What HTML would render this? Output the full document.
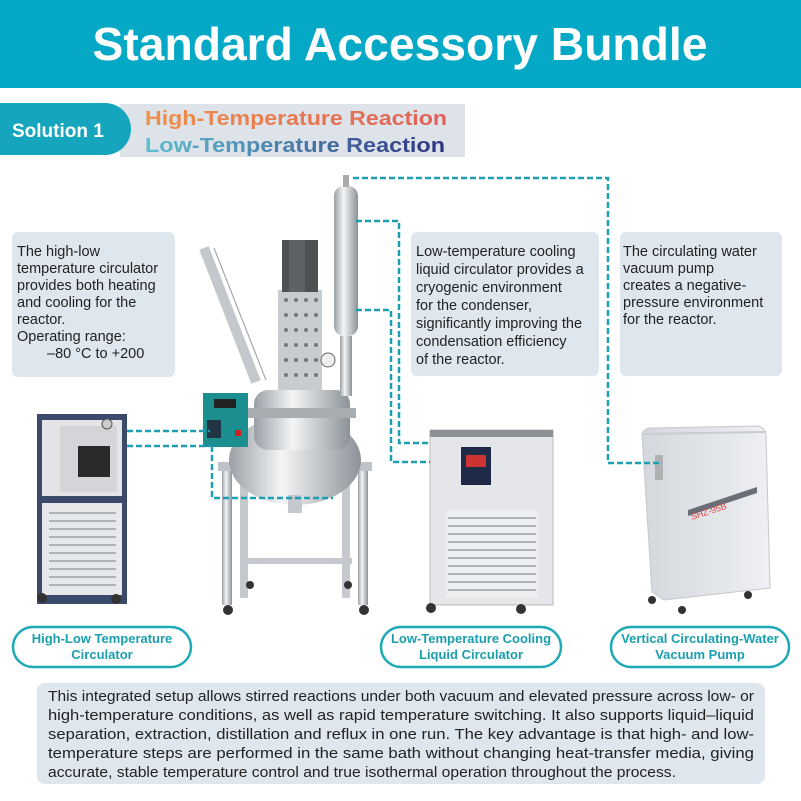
<!DOCTYPE html>
<html><head><meta charset="utf-8"><style>
html,body{margin:0;padding:0;background:#fff}
svg{display:block}
text{font-family:"Liberation Sans",sans-serif}
</style></head><body>
<svg width="801" height="801" viewBox="0 0 801 801" xmlns="http://www.w3.org/2000/svg">
<defs>
<linearGradient id="hi" x1="0" x2="1"><stop offset="0" stop-color="#f0914a"/><stop offset="1" stop-color="#e0605a"/></linearGradient>
<linearGradient id="lo" x1="0" x2="1"><stop offset="0" stop-color="#5cc0d0"/><stop offset="0.5" stop-color="#4a7aa8"/><stop offset="1" stop-color="#2e3480"/></linearGradient>
<linearGradient id="steel" x1="0" x2="1"><stop offset="0" stop-color="#9aa0a6"/><stop offset="0.4" stop-color="#f4f5f6"/><stop offset="1" stop-color="#8c9298"/></linearGradient>
<linearGradient id="pump" x1="0" x2="1"><stop offset="0" stop-color="#d4d7dc"/><stop offset="1" stop-color="#eef0f3"/></linearGradient>
</defs>
<rect x="0" y="0" width="801" height="88" fill="#05a9c5"/>
<text x="400" y="60" text-anchor="middle" font-size="46" font-weight="bold" fill="#fff" textLength="615" lengthAdjust="spacingAndGlyphs">Standard Accessory Bundle</text>

<rect x="120" y="104" width="345" height="53" fill="#dde3e9"/>
<path d="M0 103 H105 A26 26 0 0 1 105 155 H0 Z" fill="#15a6bd"/>
<text x="12" y="137" font-size="19" font-weight="bold" fill="#fff">Solution 1</text>
<text x="145" y="125" font-size="20" font-weight="bold" fill="url(#hi)" textLength="302" lengthAdjust="spacingAndGlyphs">High-Temperature Reaction</text>
<text x="145" y="152" font-size="20" font-weight="bold" fill="url(#lo)" textLength="300" lengthAdjust="spacingAndGlyphs">Low-Temperature Reaction</text>

<rect x="12" y="232" width="163" height="145" rx="6" fill="#dfe7ee"/>
<g font-size="14.5" fill="#222">
<text x="17" y="256">The high-low</text>
<text x="17" y="273">temperature circulator</text>
<text x="17" y="290">provides both heating</text>
<text x="17" y="307">and cooling for the</text>
<text x="17" y="324">reactor.</text>
<text x="17" y="341">Operating range:</text>
<text x="47" y="358">–80 °C to +200</text>
</g>
<rect x="411" y="232" width="188" height="144" rx="6" fill="#dfe7ee"/>
<g font-size="14.5" fill="#222">
<text x="416" y="256">Low-temperature cooling</text>
<text x="416" y="274">liquid circulator provides a</text>
<text x="416" y="292">cryogenic environment</text>
<text x="416" y="310">for the condenser,</text>
<text x="416" y="328">significantly improving the</text>
<text x="416" y="346">condensation efficiency</text>
<text x="416" y="364">of the reactor.</text>
</g>
<rect x="620" y="232" width="162" height="144" rx="6" fill="#dfe7ee"/>
<g font-size="14.5" fill="#222">
<text x="623" y="256">The circulating water</text>
<text x="623" y="273">vacuum pump</text>
<text x="623" y="290">creates a negative-</text>
<text x="623" y="307">pressure environment</text>
<text x="623" y="324">for the reactor.</text>
</g>

<rect x="37" y="414" width="90" height="190" fill="#3b4a6a"/>
<rect x="42" y="420" width="80" height="76" fill="#e2e4e6"/>
<rect x="60" y="426" width="57" height="66" fill="#d3d5d8"/>
<rect x="78" y="446" width="32" height="31" fill="#2a2a2a"/>
<circle cx="107" cy="424" r="5" fill="#ccc" stroke="#555"/>
<rect x="42" y="503" width="80" height="92" fill="#e6e8ea"/>
<g stroke="#9aa0a6" stroke-width="1.5">
<line x1="49" y1="513" x2="116" y2="513"/><line x1="49" y1="521" x2="116" y2="521"/><line x1="49" y1="529" x2="116" y2="529"/><line x1="49" y1="537" x2="116" y2="537"/><line x1="49" y1="545" x2="116" y2="545"/><line x1="49" y1="553" x2="116" y2="553"/><line x1="49" y1="561" x2="116" y2="561"/><line x1="49" y1="569" x2="116" y2="569"/><line x1="49" y1="577" x2="116" y2="577"/><line x1="49" y1="585" x2="116" y2="585"/>
</g>
<circle cx="42" cy="598" r="5" fill="#333"/><circle cx="116" cy="599" r="5" fill="#333"/>

<g>
<rect x="222" y="465" width="10" height="140" fill="url(#steel)"/>
<rect x="358" y="465" width="10" height="140" fill="url(#steel)"/>
<rect x="240" y="478" width="8" height="120" fill="#c5c9cd"/>
<rect x="342" y="478" width="8" height="120" fill="#c5c9cd"/>
<rect x="218" y="462" width="154" height="9" fill="#bfc3c8"/>
<rect x="240" y="558" width="112" height="6" fill="#c5c9cd"/>
<circle cx="228" cy="610" r="5" fill="#333"/><circle cx="364" cy="610" r="5" fill="#333"/>
<circle cx="250" cy="585" r="4" fill="#333"/><circle cx="348" cy="585" r="4" fill="#333"/>
<ellipse cx="295" cy="460" rx="66" ry="45" fill="url(#steel)"/>
<rect x="254" y="390" width="96" height="60" rx="14" fill="url(#steel)"/>
<rect x="248" y="408" width="108" height="10" fill="#a8adb2"/>
<rect x="288" y="495" width="14" height="18" fill="#c5c9cd"/>
<rect x="278" y="290" width="44" height="100" fill="#c8ccd0"/>
<g fill="#777">
<circle cx="286" cy="300" r="2"/><circle cx="296" cy="300" r="2"/><circle cx="306" cy="300" r="2"/><circle cx="316" cy="300" r="2"/>
<circle cx="286" cy="315" r="2"/><circle cx="296" cy="315" r="2"/><circle cx="306" cy="315" r="2"/><circle cx="316" cy="315" r="2"/>
<circle cx="286" cy="330" r="2"/><circle cx="296" cy="330" r="2"/><circle cx="306" cy="330" r="2"/><circle cx="316" cy="330" r="2"/>
<circle cx="286" cy="345" r="2"/><circle cx="296" cy="345" r="2"/><circle cx="306" cy="345" r="2"/><circle cx="316" cy="345" r="2"/>
<circle cx="286" cy="360" r="2"/><circle cx="296" cy="360" r="2"/><circle cx="306" cy="360" r="2"/><circle cx="316" cy="360" r="2"/>
<circle cx="286" cy="375" r="2"/><circle cx="296" cy="375" r="2"/><circle cx="306" cy="375" r="2"/><circle cx="316" cy="375" r="2"/>
</g>
<rect x="282" y="240" width="36" height="52" fill="#4d5154"/>
<rect x="289" y="240" width="16" height="52" fill="#5e6266"/>
<rect x="334" y="186" width="24" height="150" rx="10" fill="url(#steel)"/>
<rect x="343" y="175" width="6" height="12" fill="#aaa"/>
<rect x="340" y="336" width="12" height="60" fill="url(#steel)"/>
<circle cx="328" cy="360" r="7" fill="#eee" stroke="#666"/>
<line x1="204" y1="248" x2="256" y2="382" stroke="#c4c8cc" stroke-width="10"/>
<line x1="214" y1="248" x2="266" y2="380" stroke="#999" stroke-width="1"/>
<rect x="203" y="393" width="45" height="54" fill="#1b8f8f"/>
<rect x="214" y="399" width="22" height="9" fill="#222"/>
<rect x="207" y="420" width="14" height="18" fill="#234"/>
<rect x="235" y="430" width="6" height="6" fill="#c22"/>
</g>

<rect x="430" y="430" width="123" height="175" fill="#e4e6e9" stroke="#bbb"/>
<rect x="430" y="430" width="123" height="7" fill="#8d9196"/>
<rect x="461" y="447" width="30" height="38" fill="#1e2a48"/>
<rect x="466" y="455" width="20" height="12" fill="#c33"/>
<rect x="446" y="510" width="92" height="88" fill="#eceef0"/>
<g stroke="#9aa0a6" stroke-width="1.5">
<line x1="448" y1="518" x2="536" y2="518"/><line x1="448" y1="526" x2="536" y2="526"/><line x1="448" y1="534" x2="536" y2="534"/><line x1="448" y1="542" x2="536" y2="542"/><line x1="448" y1="550" x2="536" y2="550"/><line x1="448" y1="558" x2="536" y2="558"/><line x1="448" y1="566" x2="536" y2="566"/><line x1="448" y1="574" x2="536" y2="574"/><line x1="448" y1="582" x2="536" y2="582"/><line x1="448" y1="590" x2="536" y2="590"/>
</g>
<circle cx="431" cy="608" r="5" fill="#333"/><circle cx="521" cy="609" r="5" fill="#333"/>

<path d="M642 434 Q644 428 652 428 L758 426 Q766 428 766 436 L770 588 L664 600 L652 592 Z" fill="url(#pump)" stroke="#c4c7cc"/>
<path d="M642 434 L766 432" stroke="#c8ccd1" stroke-width="2"/>
<rect x="655" y="455" width="8" height="25" fill="#888" opacity="0.5"/>
<polygon points="688,510 757,487 757,493 688,516" fill="#6a6e76"/>
<text x="692" y="520" font-size="9" fill="#d44" transform="rotate(-18 692 520)">SHZ-95B</text>
<circle cx="652" cy="600" r="4" fill="#333"/><circle cx="682" cy="610" r="4" fill="#333"/><circle cx="748" cy="595" r="4" fill="#333"/>

<g fill="none" stroke="#1d9fb3" stroke-width="2.5" stroke-dasharray="6,3">
<polyline points="353,178 608,178 608,463 660,463"/>
<polyline points="356,221 399,221 399,443 430,443"/>
<polyline points="356,310 391,310 391,462 430,462"/>
<line x1="127" y1="431" x2="210" y2="431"/>
<line x1="127" y1="446" x2="210" y2="446"/>
<polyline points="212,446 212,498 333,498"/>
</g>

<g fill="#fff" stroke="#1fa9b6" stroke-width="2.5">
<rect x="13" y="627" width="178" height="40" rx="20"/>
<rect x="381" y="627" width="180" height="40" rx="20"/>
<rect x="611" y="627" width="178" height="40" rx="20"/>
</g>
<g font-size="13" font-weight="bold" fill="#1a9fae" text-anchor="middle">
<text x="102" y="643">High-Low Temperature</text>
<text x="102" y="659">Circulator</text>
<text x="471" y="643">Low-Temperature Cooling</text>
<text x="471" y="659">Liquid Circulator</text>
<text x="700" y="643">Vertical Circulating-Water</text>
<text x="700" y="659">Vacuum Pump</text>
</g>

<rect x="37" y="683" width="728" height="101" rx="8" fill="#dfe7ee"/>
<g font-size="14.5" fill="#222">
<text x="48" y="701" textLength="706" lengthAdjust="spacingAndGlyphs">This integrated setup allows stirred reactions under both vacuum and elevated pressure across low- or</text>
<text x="48" y="720" textLength="706" lengthAdjust="spacingAndGlyphs">high-temperature conditions, as well as rapid temperature switching. It also supports liquid–liquid</text>
<text x="48" y="739" textLength="706" lengthAdjust="spacingAndGlyphs">separation, extraction, distillation and reflux in one run. The key advantage is that high- and low-</text>
<text x="48" y="758" textLength="706" lengthAdjust="spacingAndGlyphs">temperature steps are performed in the same bath without changing heat-transfer media, giving</text>
<text x="48" y="777" textLength="628" lengthAdjust="spacingAndGlyphs">accurate, stable temperature control and true isothermal operation throughout the process.</text>
</g>
</svg>
</body></html>
